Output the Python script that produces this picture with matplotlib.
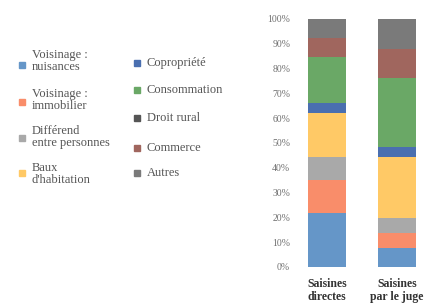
import matplotlib
matplotlib.use("Agg")
import matplotlib.pyplot as plt
from matplotlib.patches import Rectangle
import numpy as np

categories = ["Saisines\ndirectes", "Saisines\npar le juge"]
series_names = ["Voisinage :\nnuisances", "Voisinage :\nimmobilier", "Différend\nentre personnes",
                "Baux\nd'habitation", "Copropriété", "Consommation", "Droit rural",
                "Commerce", "Autres"]
colors = ["#6596c8", "#f98d6a", "#a9a9a9", "#ffc966", "#4a6fb0", "#6aa866",
          "#555555", "#a0665e", "#7a7a7a"]
values = {
    "Voisinage :\nnuisances": [21.6, 7.5],
    "Voisinage :\nimmobilier": [13.5, 6.1],
    "Différend\nentre personnes": [9.4, 6.0],
    "Baux\nd'habitation": [17.5, 24.9],
    "Copropriété": [4.3, 4.0],
    "Consommation": [18.5, 27.6],
    "Droit rural": [0.0, 0.0],
    "Commerce": [7.4, 11.7],
    "Autres": [7.8, 12.2],
}
yticks = [0, 10, 20, 30, 40, 50, 60, 70, 80, 90, 100]
ytick_labels = [f"{t}%" for t in yticks]

W, H = 448, 307
fig = plt.figure(figsize=(W / 100, H / 100), dpi=100)
fig.patch.set_facecolor("white")
serif = ["Liberation Serif", "DejaVu Serif"]

ax = fig.add_axes([293 / W, 1 - 267 / H, (439 - 293) / W, (267 - 19) / H])
x = np.arange(len(categories))
bottom = np.zeros(len(categories))
for name, c in zip(series_names, colors):
    v = np.array(values[name])
    ax.bar(x, v, width=0.55, bottom=bottom, color=c, edgecolor="none")
    bottom += v
ax.set_xlim(-0.486, 1.6)
ax.set_ylim(0, 100)
ax.set_yticks(yticks)
ax.set_yticklabels(ytick_labels, fontsize=7, color="#707070", family=serif)
ax.set_xticks(x)
ax.set_xticklabels(categories, fontsize=8.5, color="#333333", family=serif,
                   fontweight="bold", linespacing=1.05)
ax.tick_params(axis="y", length=0, pad=2)
ax.tick_params(axis="x", length=0, pad=8)
for s in ax.spines.values():
    s.set_visible(False)

# Legend (manual layout)
def fy(y):
    return 1 - y / H

left_text_y = [61, 100, 137, 174]
left_marker_y = [65, 102, 138, 173]
for i in range(4):
    name = series_names[i]
    fig.patches.append(Rectangle(((21.7 - 3) / W, fy(left_marker_y[i] + 3)), 6 / W, 6 / H,
                                 transform=fig.transFigure, color=colors[i], figure=fig))
    fig.text(32 / W, fy(left_text_y[i]), name, fontsize=9, color="#555555",
             family=serif, va="center", ha="left", linespacing=1.0)

right_y = [63, 90, 118, 148, 173]
for j in range(5):
    i = 4 + j
    fig.patches.append(Rectangle(((136.7 - 3) / W, fy(right_y[j] + 3)), 6 / W, 6 / H,
                                 transform=fig.transFigure, color=colors[i], figure=fig))
    fig.text(146.7 / W, fy(right_y[j]), series_names[i], fontsize=9, color="#555555",
             family=serif, va="center", ha="left")

fig.savefig("out.png", dpi=100)
